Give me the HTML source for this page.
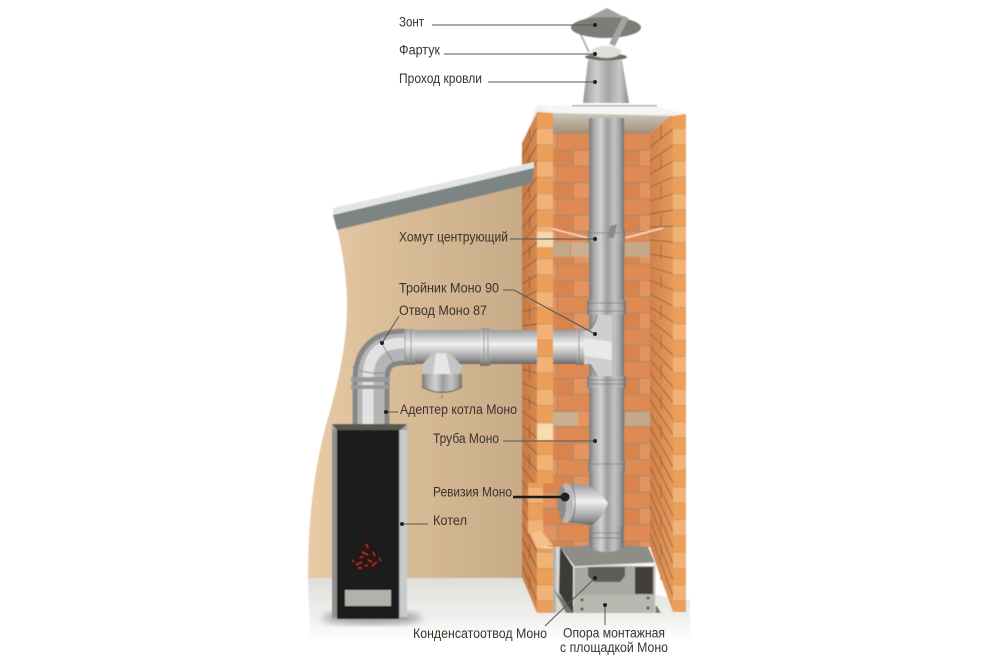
<!DOCTYPE html>
<html>
<head>
<meta charset="utf-8">
<style>
html,body{margin:0;padding:0;background:#fff;width:1000px;height:667px;overflow:hidden}
svg{display:block}
text{font-family:"Liberation Sans","DejaVu Sans",sans-serif;font-size:13.5px;fill:#3a332d}
</style>
</head>
<body>
<svg width="1000" height="667" viewBox="0 0 1000 667" xmlns="http://www.w3.org/2000/svg">
<defs>
  <pattern id="back" width="66" height="32.6" patternUnits="userSpaceOnUse" patternTransform="translate(557,133.5)">
    <rect width="66" height="32.6" fill="#a98a6c"/>
    <rect x=".6" y=".6" width="32" height="15.2" fill="#df8a52"/>
    <rect x="33.6" y=".6" width="32" height="15.2" fill="#e39360"/>
    <rect x="-16" y="16.9" width="32" height="15.2" fill="#d9844e"/>
    <rect x="17" y="16.9" width="32" height="15.2" fill="#e5945e"/>
    <rect x="50" y="16.9" width="32" height="15.2" fill="#db8650"/>
  </pattern>
  <pattern id="front" width="30" height="32.6" patternUnits="userSpaceOnUse" patternTransform="translate(537,112)">
    <rect width="30" height="32.6" fill="#c79a6c"/>
    <rect y=".6" width="30" height="15.3" fill="#ec9f58"/>
    <rect y="16.9" width="30" height="15.2" fill="#f2b276"/>
  </pattern>
  <linearGradient id="sideLg" x1="0" x2="1" y1="0" y2="0">
    <stop offset="0" stop-color="#c67a44"/><stop offset="1" stop-color="#d68a50"/>
  </linearGradient>
  <linearGradient id="sideRg" x1="0" x2="1" y1="0" y2="0">
    <stop offset="0" stop-color="#cf824a"/><stop offset="1" stop-color="#e59a5c"/>
  </linearGradient>
  <linearGradient id="pv" x1="0" x2="1" y1="0" y2="0">
    <stop offset="0" stop-color="#7a7a7a"/><stop offset=".14" stop-color="#a8a8a8"/>
    <stop offset=".34" stop-color="#d2d2d2"/><stop offset=".52" stop-color="#9d9d9d"/>
    <stop offset=".72" stop-color="#c4c4c4"/><stop offset=".88" stop-color="#a2a2a2"/>
    <stop offset="1" stop-color="#707070"/>
  </linearGradient>
  <linearGradient id="ph" x1="0" x2="0" y1="0" y2="1">
    <stop offset="0" stop-color="#9a9a9a"/><stop offset=".2" stop-color="#c4c4c4"/>
    <stop offset=".42" stop-color="#f0f0f0"/><stop offset=".68" stop-color="#bcbcbc"/>
    <stop offset=".88" stop-color="#8f8f8f"/><stop offset="1" stop-color="#626262"/>
  </linearGradient>
  <linearGradient id="wall" x1="0" x2="1" y1="0" y2="0">
    <stop offset="0" stop-color="#e8cba6"/><stop offset=".4" stop-color="#d9bd98"/><stop offset="1" stop-color="#c8ab88"/>
  </linearGradient>
  <linearGradient id="floor" x1="0" x2="0" y1="0" y2="1">
    <stop offset="0" stop-color="#dededa"/><stop offset=".6" stop-color="#eeeeec"/><stop offset="1" stop-color="#fff"/>
  </linearGradient>
  <linearGradient id="shade" x1="0" x2="0" y1="0" y2="1">
    <stop offset="0" stop-color="#cfc8bb"/><stop offset="1" stop-color="#a08d76"/>
  </linearGradient>
  <linearGradient id="cone" x1="0" x2="1" y1="0" y2="0">
    <stop offset="0" stop-color="#969694"/><stop offset=".3" stop-color="#cfcfcd"/>
    <stop offset=".55" stop-color="#a5a5a3"/><stop offset=".8" stop-color="#c8c8c6"/><stop offset="1" stop-color="#8a8a88"/>
  </linearGradient>
  <filter id="soft" x="-5%" y="-5%" width="110%" height="110%"><feGaussianBlur stdDeviation=".5"/></filter>
  <filter id="blur4" x="-20%" y="-20%" width="140%" height="140%"><feGaussianBlur stdDeviation="4"/></filter>
</defs>

<g filter="url(#soft)">
  <!-- floor -->
  <path d="M308,577 L530,577 L690,600 L690,640 L310,640 Z" fill="url(#floor)"/>
  <!-- wall -->
  <path d="M337,228 L522,186 L522,578 L308,578 C308,520 314,470 326,425 C338,385 348,340 347,300 C346,270 342,250 337,228 Z" fill="url(#wall)"/>

  <!-- chimney back wall -->
  <rect x="553" y="133" width="97" height="414" fill="url(#back)"/>
  <path d="M553,113 L673,113 L650,134 L553,134 Z" fill="url(#shade)"/>
  <!-- pale bricks -->
  <rect x="553" y="242" width="17" height="15" fill="#bfa988"/>
  <rect x="571" y="242" width="18" height="15" fill="#c9b08e"/>
  <rect x="625" y="242" width="25" height="15" fill="#c2a989"/>
  <rect x="553" y="412" width="25" height="14" fill="#c9b08e"/>
  <rect x="625" y="412" width="25" height="14" fill="#c2a989"/>

  <!-- right side face -->
  <path d="M650,134 L673,113 L673,612 L650,547 Z" fill="url(#sideRg)"/>
  <path d="M650,147L673,129M650,161L673,145M650,174L673,161M650,187L673,177M650,201L673,194M650,214L673,210M650,227L673,226M650,240L673,242M650,254L673,258M650,267L673,274M650,280L673,290M650,294L673,306M650,307L673,322M650,320L673,338M650,334L673,355M650,347L673,371M650,360L673,387M650,373L673,403M650,387L673,419M650,400L673,435M650,413L673,451M650,427L673,467M650,440L673,483M650,453L673,499M650,467L673,516M650,480L673,532M650,493L673,548M650,506L673,564M650,520L673,580M650,533L673,596" stroke="#9a6238" stroke-width=".9" fill="none"/>
  <path d="M661,125V580" stroke="#9a6238" stroke-width=".8" stroke-dasharray="14 16" fill="none"/>
  <rect x="673" y="114" width="13" height="498" fill="url(#front)"/>

  <!-- left side face -->
  <path d="M522,143 L537,112 L537,613 L522,577 Z" fill="url(#sideLg)"/>
  <path d="M522,157L537,128M522,171L537,145M522,185L537,161M522,199L537,177M522,214L537,194M522,228L537,210M522,242L537,226M522,256L537,242M522,270L537,259M522,284L537,275M522,298L537,291M522,312L537,308M522,326L537,324M522,340L537,340M522,355L537,357M522,369L537,373M522,383L537,389M522,397L537,405M522,411L537,422M522,425L537,438M522,439L537,454M522,453L537,471M522,467L537,487M522,481L537,503M522,496L537,520M522,510L537,536M522,524L537,552M522,538L537,568M522,552L537,585M522,566L537,601" stroke="#8d5a38" stroke-width=".9" fill="none"/>
  <path d="M529.5,125V590" stroke="#8d5a38" stroke-width=".8" stroke-dasharray="14 16" fill="none"/>
  <!-- left front column -->
  <rect x="537" y="112" width="16" height="372" fill="url(#front)"/>
  <rect x="537" y="232" width="16" height="15" fill="#f5d9ae"/>
  <rect x="537" y="424" width="16" height="16" fill="#f8dcae"/>
  <!-- cut-away -->
  <rect x="528" y="483" width="15" height="50" fill="url(#front)"/>
  <rect x="543" y="483" width="10" height="50" fill="url(#back)"/>
  <rect x="543" y="533" width="10" height="14" fill="url(#back)"/>
  <path d="M530,533 L541,531 L553,545 L537,549 Z" fill="#f4c08e"/>
  <rect x="537" y="548" width="16" height="65" fill="url(#front)"/>
  <path d="M553,547 H562 L559,593 L566,613 H553 Z" fill="#d6d6d2"/>
  <path d="M553,547 H556 V613 H553 Z" fill="#9b9b96" opacity=".6"/>

  <!-- top slab -->
  <path d="M522,143 L537,105 L686,114 L673,116 L553,113 L537,112 Z" fill="#f0f1ef"/>
  <path d="M537,105 L657,106 L686,114 L553,113 Z" fill="#f6f6f4"/>
  <path d="M572,105 H657 V106.5 H572 Z" fill="#b2b3b1"/>

  <!-- roof -->
  <path d="M333,208 L534,162 L534,169 L333,216 Z" fill="#e3e5e3"/>
  <path d="M333,215 L534,168 L532,183 L522,186 L337,230 Z" fill="#7d8484"/>

  <!-- wires at clamp -->
  <path d="M553,229 L588,238 M625,238 L663,228" stroke="#f8dac4" stroke-width="1.6" fill="none"/>

  <!-- boiler shadow -->
  <ellipse cx="372" cy="618" rx="50" ry="6" fill="#999" filter="url(#blur4)"/>

  <!-- vertical flue -->
  <rect x="589" y="118" width="35" height="435" fill="url(#pv)"/>
  <rect x="588" y="230" width="37" height="13" fill="url(#pv)"/>
  <rect x="587" y="300" width="39" height="15" fill="url(#pv)"/>
  <rect x="587" y="376" width="39" height="12" fill="url(#pv)"/>
  <rect x="588" y="461" width="37" height="10" fill="url(#pv)"/>
  <path d="M587,303 H626 M587,311 H626 M587,380 H626 M587,384 H626 M588,464 H625 M588,233 H625" stroke="#7a7a7a" stroke-width=".8"/>
  <path d="M607,238 L610,226 L617,224 L614,238 Z" fill="#8a8a8a"/>

  <!-- horizontal run -->
  <rect x="392" y="330" width="145" height="34" fill="url(#ph)"/>
  <rect x="553" y="330" width="40" height="34" fill="url(#ph)"/>
  <path d="M402,329 h13 v36 h-13 Z M480,328 h10 v38 h-10 Z M576,329 h8 v36 h-8 Z" fill="url(#ph)"/>
  <path d="M405,329 v36 M411,329 v36 M484,328 v38 M488,328 v38 M579,329 v36" stroke="#888" stroke-width=".8"/>
  <!-- tee on vertical -->
  <path d="M584,331 L590,330 Q596,323 597,315 L612,315 L612,376 L597,376 L590,364 L584,364 Z" fill="#cfcfcf"/>
  <path d="M584,338 L612,342 L612,360 L584,356 Z" fill="#e9e9e9"/>
  <path d="M590,330 Q596,323 597,315" stroke="#6e6e6e" stroke-width="1" fill="none"/>
  <path d="M590,364 L597,376" stroke="#7a7a7a" stroke-width="1" fill="none"/>

  <!-- elbow -->
  <g fill="none" stroke-linecap="butt">
    <path d="M371,428 L371,380 Q371,347 404,347" stroke="#868686" stroke-width="37"/>
    <path d="M371,428 L371,380 Q371,347 404,347" stroke="#b5b5b5" stroke-width="27"/>
    <path d="M368,428 L368,378 Q368,343 404,343" stroke="#e2e2e2" stroke-width="11"/>
  </g>
  <path d="M351,377 h39 v5 h-39 Z M351,385 h39 v4 h-39 Z" fill="#9a9a9a"/>
  <path d="M352,367 Q368,376 390,372 M376,334 L393,362" stroke="#888" stroke-width="1" fill="none"/>

  <!-- tee down + condensate -->
  <path d="M421,366 L433,353 H450 L462,366 L458,376 L425,376 Z" fill="#c5c5c5"/>
  <path d="M436,353 h10 l5,22 h-18 Z" fill="#e6e6e6"/>
  <path d="M422,374 H462 V387 Q442,398 422,387 Z" fill="url(#pv)"/>
  <path d="M422,387 Q442,398 462,387" stroke="#666" stroke-width="1.2" fill="none"/>
  <rect x="441" y="395" width="2" height="3" fill="#b58a60"/>

  <!-- boiler -->
  <rect x="332" y="424" width="75" height="195" fill="#a2a4a4"/>
  <path d="M332,424 H407 L400,430 H337 Z" fill="#59564f"/>
  <rect x="337" y="430" width="62" height="189" fill="#1b1a1a"/>
  <rect x="400" y="430" width="7" height="187" fill="#c7cbcc"/>
  <rect x="332" y="430" width="5" height="187" fill="#8d8f8f"/>
  <path d="M354,570 L361,548 L367,535 L374,548 L381,570 Z" fill="#2a1916"/>
  <path d="M356,565 l6,-3 M362,552 l6,3 M372,566 l5,-4 M366,544 l2,4 M358,568 h4 M368,560 l4,2 M360,558 l3,-2 M373,552 l2,4 M365,566 l3,-1 M352,560 l2,2 M379,558 l2,3" stroke="#c8432a" stroke-width="1"/>
  <rect x="345" y="590" width="46" height="16" fill="#b2b1ac"/>

  <!-- support box -->
  <path d="M554,590 L566,613 H661 L657,606 H570 Z" fill="#77776f"/>
  <path d="M560,547 L588,545 L623,545 L648,547 L655,563 L575,567 Z" fill="#8f8e86"/>
  <path d="M560,547 L573,567 L573,613 L559,593 Z" fill="#3d3a36"/>
  <rect x="574" y="566" width="81" height="47" fill="#a9a9a1"/>
  <rect x="635" y="567" width="18" height="27" fill="#3f3e3a"/>
  <path d="M588,567 H625 V576 L620,582 H594 L588,576 Z" fill="#5e5d5a"/>
  <rect x="575" y="595" width="80" height="18" fill="#b8b8b0"/>
  <path d="M574,567 L655,563" stroke="#e2e2de" stroke-width="1.6"/>
  <path d="M574,566 V613 M655,564 V613" stroke="#d2d2cc" stroke-width="1.2"/>
  <g fill="#55544f"><circle cx="582" cy="600" r="1.5"/><circle cx="582" cy="609" r="1.5"/><circle cx="648" cy="598" r="1.5"/><circle cx="648" cy="608" r="1.5"/></g>
  <!-- lower pipe over box top -->
  <path d="M590,526 H623 V548 Q606,556 590,548 Z" fill="url(#pv)"/>
  <path d="M590,533 H623 M590,538 H623" stroke="#7a7a7a" stroke-width=".8"/>

  <!-- revision -->
  <path d="M566,484 L585,484 Q600,491 608,503 Q604,516 592,525 L566,522 Z" fill="url(#ph)"/>
  <ellipse cx="566" cy="503" rx="7" ry="20" fill="#b8b8b8"/>
  <ellipse cx="562" cy="503" rx="4" ry="17" fill="#8c8c8c"/>
  <path d="M572,484 Q578,503 572,522" stroke="#777" stroke-width="1" fill="none"/>

  <!-- cap assembly -->
  <path d="M583,103 L588,60 H622 L629,103 Z" fill="url(#cone)"/>
  <ellipse cx="606" cy="57" rx="21" ry="3.5" fill="#6e6e6b"/>
  <ellipse cx="606" cy="52" rx="15" ry="6" fill="#dededb"/>
  <path d="M580,33 L589,52" stroke="#a5a5a3" stroke-width="1.6"/>
  <path d="M607,8 L571,26 L641,26 Z" fill="#a2a2a0"/>
  <ellipse cx="606" cy="27.5" rx="35" ry="10.5" fill="#7b7b78"/>
  <path d="M626,17 L612,45" stroke="#a3a3a0" stroke-width="6"/>
</g>

<!-- connectors -->
<g fill="none" stroke="#5a5550" stroke-width="1">
  <path d="M432,25 H595"/>
  <path d="M444,54 H595"/>
  <path d="M488,82 H595"/>
  <path d="M510,239 H595"/>
  <path d="M503,290 H514 L595,334"/>
  <path d="M399,316 L382,343"/>
  <path d="M398,412 H386"/>
  <path d="M503,441 H595"/>
  <path d="M428,524 H402"/>
  <path d="M545,626 L595,578"/>
  <path d="M605,625 V606"/>
  <path d="M513,497 H565" stroke="#1c1a18" stroke-width="2.4"/>
</g>
<g fill="#23211f">
  <circle cx="595" cy="25" r="2"/><circle cx="595" cy="54" r="2"/><circle cx="595" cy="82" r="2"/>
  <circle cx="595" cy="239" r="2"/><circle cx="595" cy="334" r="2"/><circle cx="382" cy="343" r="2"/>
  <circle cx="386" cy="412" r="2"/><circle cx="595" cy="441" r="2"/><circle cx="402" cy="524" r="2"/>
  <circle cx="565" cy="497" r="4.5"/><circle cx="595" cy="578" r="2"/><circle cx="605" cy="605" r="2"/>
</g>

<!-- labels -->
<text x="399" y="26.5" textLength="25" lengthAdjust="spacingAndGlyphs">Зонт</text>
<text x="399" y="54.5" textLength="41" lengthAdjust="spacingAndGlyphs">Фартук</text>
<text x="399" y="83" textLength="83" lengthAdjust="spacingAndGlyphs">Проход кровли</text>
<text x="399" y="241.5" textLength="109" lengthAdjust="spacingAndGlyphs">Хомут центрующий</text>
<text x="399" y="292.5" textLength="100" lengthAdjust="spacingAndGlyphs">Тройник Моно 90</text>
<text x="399" y="315" textLength="88" lengthAdjust="spacingAndGlyphs">Отвод Моно 87</text>
<text x="400" y="414" textLength="117" lengthAdjust="spacingAndGlyphs">Адептер котла Моно</text>
<text x="433" y="443" textLength="66" lengthAdjust="spacingAndGlyphs">Труба Моно</text>
<text x="433" y="496.5" textLength="79" lengthAdjust="spacingAndGlyphs">Ревизия Моно</text>
<text x="433" y="525" textLength="34" lengthAdjust="spacingAndGlyphs">Котел</text>
<text x="413" y="638" textLength="134" lengthAdjust="spacingAndGlyphs">Конденсатоотвод Моно</text>
<text x="563" y="637.5" textLength="102" lengthAdjust="spacingAndGlyphs">Опора монтажная</text>
<text x="560" y="652" textLength="108" lengthAdjust="spacingAndGlyphs">с площадкой Моно</text>
</svg>
</body>
</html>
